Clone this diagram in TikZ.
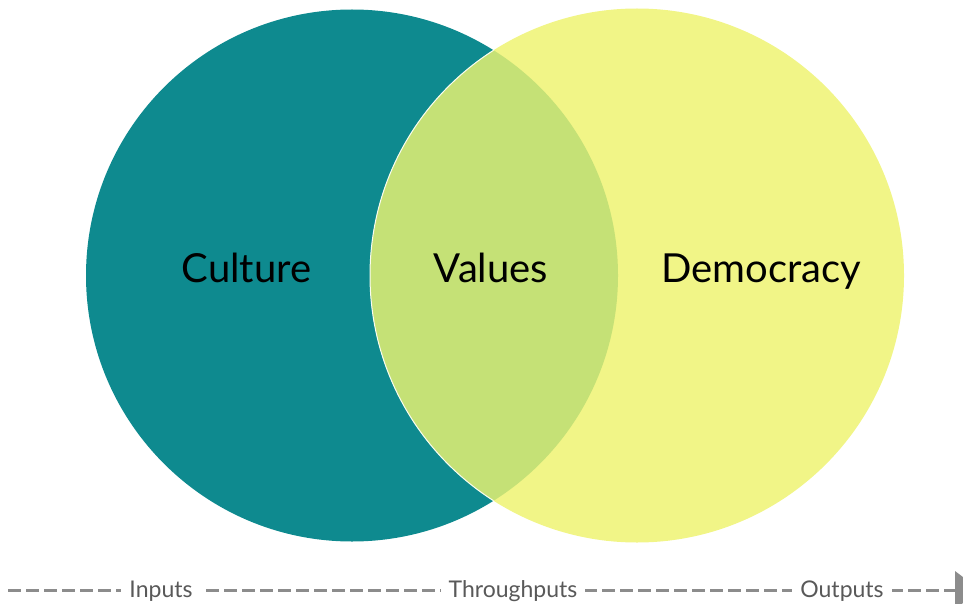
\documentclass[tikz,border=0pt]{standalone}
\usepackage{fontspec}
\setmainfont{Lato}
\usetikzlibrary{arrows.meta}
\definecolor{teal1}{HTML}{0E8A8F}
\definecolor{yell1}{HTML}{F1F587}
\definecolor{mix1}{HTML}{C5E176}
\definecolor{linegray}{HTML}{8C8C8C}
\definecolor{textgray}{HTML}{595959}
\tikzset{
  biglabel/.style={font=\fontsize{40}{44}\selectfont, text=black, inner sep=0pt, anchor=base},
  axislabel/.style={font=\fontsize{23}{26}\selectfont, text=textgray, fill=white, inner xsep=8pt, inner ysep=4pt, anchor=base},
  axisline/.style={draw=linegray, line width=3pt, dash pattern=on 13pt off 5pt},
}
\begin{document}
\begin{tikzpicture}[x=1pt,y=-1pt]
\useasboundingbox (0,0) rectangle (963,604);
\clip (0,0) rectangle (963,604);
% circles
\fill[teal1] (352,275.5) circle (266);
\fill[yell1] (637,275.5) circle (267);
\begin{scope}
  \clip (352,275.5) circle (266);
  \fill[mix1] (637,275.5) circle (267);
\end{scope}
\begin{scope}
  \clip (352,275.5) circle (266);
  \draw[white!90!mix1, line width=1pt] (637,275.5) circle (267);
\end{scope}
% labels
\node[biglabel] (culture) at (246.5,282) {Culture};
\node[biglabel] (values) at (491,282) {Values};
\node[biglabel] (democracy) at (761,282) {Democracy};
% axis
\coordinate (start) at (8,590);
\coordinate (end) at (955,590);
\draw[axisline] (start) -- (end);
\fill[linegray] (end) ++(0,-19) -- ++(25,19) -- ++(-25,19) -- cycle;
\node[axislabel] (inputs) at (161,597) {Inputs};
\node[axislabel] (through) at (513,597) {Throughputs};
\node[axislabel] (outputs) at (842,597) {Outputs};
\end{tikzpicture}
\end{document}
